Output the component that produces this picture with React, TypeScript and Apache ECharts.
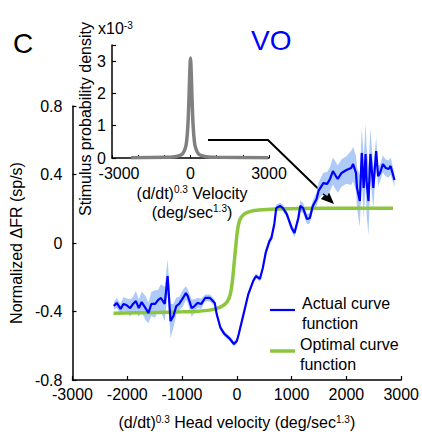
import React, { useEffect, useRef } from "react";
import * as echarts from "echarts";

// Main panel: actual curve (blue) with error band
const blueX = [-2245,-2193,-2122,-2070,-2017,-1947,-1895,-1842,-1789,-1737,
  -1667,-1614,-1561,-1491,-1439,-1386,-1316,-1263,-1210,-1158,
  -1105,-1053,-982,-930,-895,-824,-772,-719,-649,-579,
  -491,-403,-368,-298,-228,-140,-53,0,35,123,
  210,298,351,421,474,526,596,631,684,719,
  789,842,912,1000,1052,1123,1158,1210,1280,1333,
  1386,1456,1491,1579,1649,1701,1754,1807,1842,1912,
  2000,2087,2122,2175,2193,2245,2280,2315,2350,2368,
  2403,2438,2491,2543,2578,2614,2666,2719,2771,2806,
  2877];
const blueY = [-0.368,-0.350,-0.385,-0.356,-0.362,-0.380,-0.356,-0.339,-0.380,-0.345,
  -0.380,-0.409,-0.356,-0.356,-0.333,-0.321,-0.356,-0.193,-0.456,-0.426,
  -0.368,-0.356,-0.321,-0.292,-0.310,-0.380,-0.368,-0.350,-0.356,-0.321,
  -0.321,-0.350,-0.415,-0.496,-0.531,-0.555,-0.590,-0.572,-0.531,-0.415,
  -0.298,-0.222,-0.193,-0.210,-0.146,-0.058,0.012,0.029,0.111,0.204,
  0.216,0.204,0.169,0.088,0.058,0.146,0.216,0.204,0.140,0.146,
  0.216,0.257,0.304,0.350,0.345,0.374,0.420,0.391,0.374,0.409,
  0.426,0.438,0.461,0.409,0.321,0.245,0.526,0.321,0.520,0.362,
  0.245,0.520,0.321,0.537,0.391,0.409,0.461,0.438,0.432,0.450,
  0.368];
const blueSem = [0.02,0.03,0.03,0.04,0.04,0.05,0.04,0.06,0.05,0.06,
  0.07,0.06,0.07,0.08,0.06,0.08,0.1,0.1,0.1,0.07,
  0.05,0.04,0.05,0.04,0.04,0.05,0.04,0.03,0.03,0.02,
  0.02,0.02,0.02,0.015,0.015,0.015,0.015,0.015,0.015,0.015,
  0.015,0.015,0.015,0.015,0.015,0.02,0.02,0.02,0.02,0.02,
  0.02,0.02,0.02,0.02,0.025,0.03,0.03,0.03,0.03,0.03,
  0.03,0.04,0.05,0.06,0.07,0.07,0.08,0.08,0.08,0.08,
  0.08,0.1,0.1,0.1,0.12,0.15,0.15,0.18,0.18,0.2,
  0.2,0.15,0.12,0.08,0.06,0.05,0.05,0.05,0.05,0.05,
  0.04];

// Main panel: optimal curve (green)
const greenX = [-2250,-1500,-1000,-700,-500,-350,-250,-170,-120,-80,-50,-20,10,40,80,150,250,400,700,1200,2000,2850];
const greenY = [-0.41,-0.406,-0.402,-0.398,-0.392,-0.38,-0.365,-0.34,-0.3,-0.22,-0.12,-0.02,0.07,0.12,0.15,0.172,0.185,0.193,0.199,0.202,0.203,0.203];

// Inset: stimulus probability density (x10^-3)
const insetX = [-2270,-1000,-600,-400,-300,-200,-150,-100,-60,-30,0,30,60,100,150,200,300,400,600,1000,2960];
const insetY = [0.01,0.02,0.04,0.08,0.13,0.3,0.5,1.0,1.8,2.6,3.1,2.6,1.8,1.0,0.5,0.3,0.13,0.08,0.04,0.02,0.01];

const mainXTicks = [-3000, 3000, 1000];
const mainYTicks = [-0.8, 0.8, 0.4];
const insetXLabels = [-3000, 0, 3000];

const FONT = "Arial, 'Liberation Sans', sans-serif";
const BLUE = "#0000ff";
const GREEN = "#8cc63f";
const BAND = "#aecbf7";

export default function App() {
  const ref = useRef<HTMLDivElement>(null);
  useEffect(() => {
    if (!ref.current) return;
    const chart = echarts.init(ref.current, undefined, { renderer: "svg" });
    const sup = { fontSize: 10, fontFamily: FONT, color: "#000", padding: [0, 0, 7, 0] };
    const axisCommon = {
      axisLine: { show: true, onZero: false, lineStyle: { color: "#000", width: 1.5 } },
      axisTick: { show: true, inside: true, length: 4, lineStyle: { color: "#000", width: 1.2 } },
      splitLine: { show: false },
    };
    const tip = [334, 204];
    const dir = [0.718, 0.696];
    const perp = [-dir[1], dir[0]];
    const hl = 13, hw = 5.5;
    const base = [tip[0] - hl * dir[0], tip[1] - hl * dir[1]];
    chart.setOption({
      animation: false,
      backgroundColor: "#fff",
      textStyle: { fontFamily: FONT },
      grid: [
        { left: 67, top: 106, width: 343, height: 274 },
        { left: 112, top: 45, width: 157, height: 113 },
      ],
      xAxis: [
        {
          type: "value", gridIndex: 0, min: mainXTicks[0], max: mainXTicks[1], interval: mainXTicks[2],
          ...axisCommon,
          axisLabel: { fontSize: 16, color: "#000", margin: 6, fontFamily: FONT, formatter: (v: number) => String(v) },
          name: "(d/dt){s|0.3} Head velocity (deg/sec{s|1.3})",
          nameLocation: "middle", nameGap: 34,
          nameTextStyle: { fontSize: 16, color: "#000", fontFamily: FONT, rich: { s: sup } },
        },
        {
          type: "value", gridIndex: 1, min: -3000, max: 3000, interval: 1000,
          ...axisCommon,
          axisTick: { show: true, inside: true, length: 3, lineStyle: { color: "#000", width: 1 } },
          axisLabel: {
            fontSize: 16, color: "#000", margin: 7, fontFamily: FONT,
            showMinLabel: true, showMaxLabel: true,
            formatter: (v: number) => (v === insetXLabels[0] ? "{l|" + v + "}" : insetXLabels.includes(v) ? String(v) : ""),
            rich: { l: { fontSize: 16, fontFamily: FONT, color: "#000", padding: [0, 0, 0, 14] } },
          },
        },
      ],
      yAxis: [
        {
          type: "value", gridIndex: 0, min: mainYTicks[0], max: mainYTicks[1], interval: mainYTicks[2],
          ...axisCommon,
          axisLabel: {
            fontSize: 16, color: "#000", margin: 10, fontFamily: FONT,
            formatter: (v: number) => String(Math.round(v * 10) / 10),
          },
          name: "Normalized ΔFR (sp/s)",
          nameLocation: "middle", nameGap: 42,
          nameTextStyle: { fontSize: 16, color: "#000", fontFamily: FONT },
        },
        {
          type: "value", gridIndex: 1, min: 0, max: 3.5, interval: 1,
          ...axisCommon,
          axisLabel: {
            fontSize: 16, color: "#000", margin: 6, fontFamily: FONT,
            formatter: (v: number) => (Number.isInteger(v) ? String(v) : ""),
          },
        },
      ],
      series: [
        {
          name: "band", type: "custom", xAxisIndex: 0, yAxisIndex: 0, silent: true,
          data: blueX.map((x, i) => [x, blueY[i] - blueSem[i], blueY[i] + blueSem[i]]),
          encode: { x: 0, y: [1, 2] },
          renderItem: (params: any, api: any) => {
            if (params.dataIndex !== 0) return null;
            const upper = blueX.map((x, i) => api.coord([x, blueY[i] + blueSem[i]]));
            const lower = blueX.map((x, i) => api.coord([x, blueY[i] - blueSem[i]])).reverse();
            return { type: "polygon", shape: { points: upper.concat(lower) }, style: { fill: BAND } };
          },
        },
        {
          name: "Optimal curve function", type: "line", xAxisIndex: 0, yAxisIndex: 0,
          symbol: "none", smooth: 0.3, lineStyle: { color: GREEN, width: 3.5 },
          data: greenX.map((x, i) => [x, greenY[i]]),
        },
        {
          name: "Actual curve function", type: "line", xAxisIndex: 0, yAxisIndex: 0,
          symbol: "none", lineStyle: { color: BLUE, width: 2.2 },
          data: blueX.map((x, i) => [x, blueY[i]]),
        },
        {
          name: "Stimulus probability density", type: "line", xAxisIndex: 1, yAxisIndex: 1,
          symbol: "none", smooth: 0.3, lineStyle: { color: "#808080", width: 3.5 },
          data: insetX.map((x, i) => [x, insetY[i]]),
        },
      ],
      graphic: [
        { type: "text", left: 13, top: 29, style: { text: "C", fontSize: 28, fontFamily: FONT, fill: "#000" } },
        { type: "text", left: 251, top: 26, style: { text: "VO", fontSize: 28, fontFamily: FONT, fill: BLUE } },
        {
          type: "text", left: 98, top: 20,
          style: { text: "x10{s|-3}", fontSize: 16, fontFamily: FONT, fill: "#000", rich: { s: sup } },
        },
        {
          type: "text", x: 85, y: 119, rotation: Math.PI / 2,
          style: { text: "Stimulus probability density", fontSize: 16, fontFamily: FONT, fill: "#000", align: "center", verticalAlign: "middle" },
        },
        {
          type: "text", x: 192, y: 193,
          style: { text: "(d/dt){s|0.3} Velocity", fontSize: 16, fontFamily: FONT, fill: "#000", align: "center", verticalAlign: "middle", rich: { s: sup } },
        },
        {
          type: "text", x: 192, y: 212,
          style: { text: "(deg/sec{s|1.3})", fontSize: 16, fontFamily: FONT, fill: "#000", align: "center", verticalAlign: "middle", rich: { s: sup } },
        },
        {
          type: "polyline",
          shape: { points: [[208, 140], [268, 140], [base[0], base[1]]] },
          style: { stroke: "#000", lineWidth: 2, fill: "none" },
        },
        {
          type: "polygon",
          shape: { points: [tip, [base[0] + hw * perp[0], base[1] + hw * perp[1]], [base[0] - hw * perp[0], base[1] - hw * perp[1]]] },
          style: { fill: "#000" },
        },
        { type: "line", shape: { x1: 270, y1: 310, x2: 295, y2: 310 }, style: { stroke: BLUE, lineWidth: 2.2 } },
        { type: "text", left: 302, top: 293, style: { text: "Actual curve\nfunction", fontSize: 16, lineHeight: 20, fontFamily: FONT, fill: "#000" } },
        { type: "line", shape: { x1: 270, y1: 351, x2: 295, y2: 351 }, style: { stroke: GREEN, lineWidth: 3.5 } },
        { type: "text", left: 300, top: 334, style: { text: "Optimal curve\nfunction", fontSize: 16, lineHeight: 20, fontFamily: FONT, fill: "#000" } },
      ],
    });
    return () => chart.dispose();
  }, []);
  return <div ref={ref} style={{ position: "fixed", left: 0, top: 0, width: 422, height: 440, background: "#fff" }} />;
}
